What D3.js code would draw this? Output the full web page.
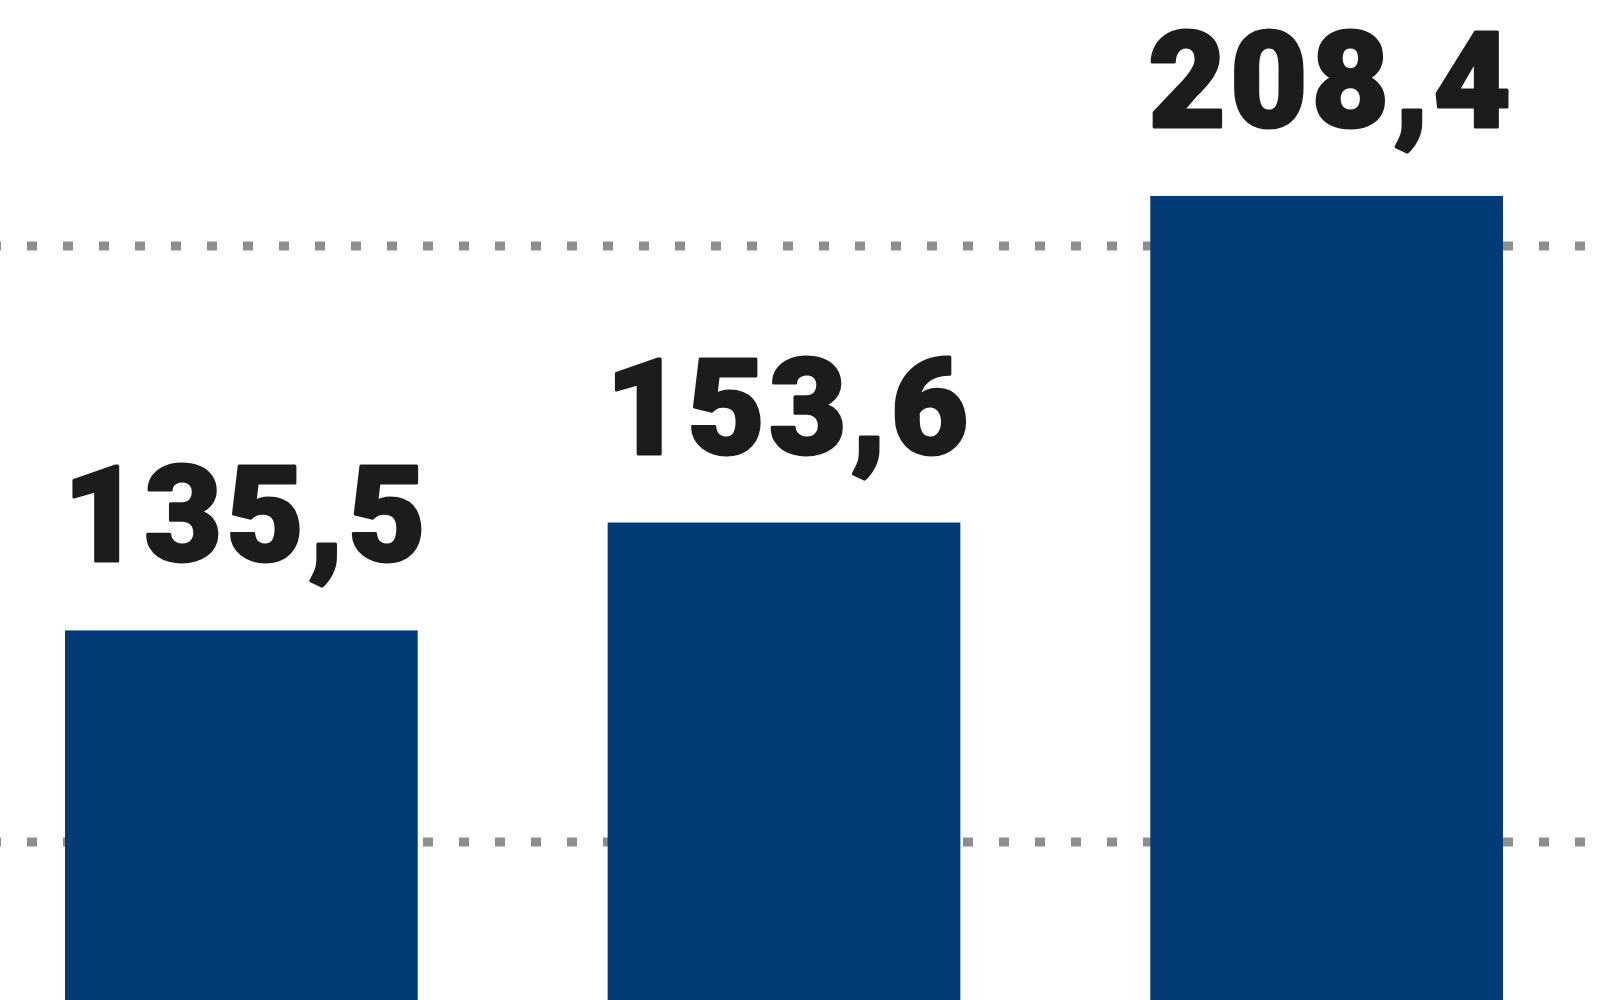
<!DOCTYPE html>
<html>
<head>
<meta charset="utf-8">
<script src="https://cdn.jsdelivr.net/npm/d3@7"></script>
<style>
    body { margin: 0; background: #fff; }
    svg { display: block; }
</style>
</head>
<body>
<div id="chart"></div>
<script>
// Données du graphique
const categories = ["1", "2", "3"];
const values = [135.5, 153.6, 208.4];
const gridValues = [100, 200];

const width = 1600, height = 1000;

// format européen : virgule décimale
const locale = d3.formatLocale({ decimal: ",", thousands: ".", grouping: [3], currency: ["", " €"] });
const fmt = locale.format(".1f");

const svg = d3.select("#chart").append("svg")
    .attr("width", width).attr("height", height);

const x = d3.scaleBand()
    .domain(categories)
    .range([65, 1503])
    .paddingInner(0.35)
    .paddingOuter(0);

// l'axe zéro est hors du cadre (graphique recadré)
const y = d3.scaleLinear().domain([100, 200]).range([842, 246]);

// lignes de grille pointillées
svg.append("g")
    .selectAll("line")
    .data(gridValues)
    .enter().append("line")
    .attr("x1", 0).attr("x2", width)
    .attr("y1", d => y(d)).attr("y2", d => y(d))
    .attr("stroke", "#8e8e8e")
    .attr("stroke-width", 9)
    .attr("stroke-dasharray", "10 26")
    .attr("stroke-dashoffset", 9);

// barres
svg.append("g")
    .selectAll("rect")
    .data(values)
    .enter().append("rect")
    .attr("x", (d, i) => x(categories[i]))
    .attr("y", d => y(d))
    .attr("width", x.bandwidth())
    .attr("height", d => height + 50 - y(d))
    .attr("fill", "#023b76");

// étiquettes de valeur (trait ajouté pour épaissir la police)
svg.append("g")
    .selectAll("text")
    .data(values)
    .enter().append("text")
    .attr("x", (d, i) => x(categories[i]) + x.bandwidth() / 2 + 5)
    .attr("y", d => y(d) - 69)
    .attr("text-anchor", "middle")
    .style("font-family", "Roboto, 'Liberation Sans', sans-serif")
    .style("font-weight", 900)
    .style("font-size", "134px")
    .style("letter-spacing", "4px")
    .attr("fill", "#1c1c1c")
    .attr("stroke", "#1c1c1c")
    .attr("stroke-width", 3)
    .attr("stroke-linejoin", "round")
    .text(d => fmt(d));
</script>
</body>
</html>
